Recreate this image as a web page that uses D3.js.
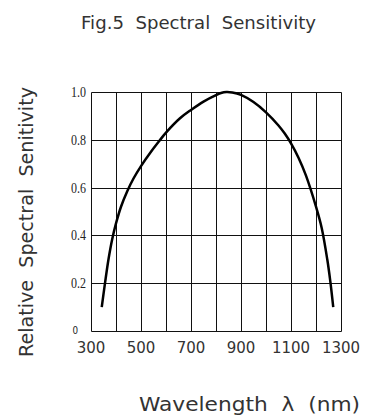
<!DOCTYPE html>
<html>
<head>
<meta charset="utf-8">
<script src="https://cdn.jsdelivr.net/npm/d3@7"></script>
<style>
  body { margin: 0; background: #fff; }
  svg { display: block; }
  text { white-space: pre; }
</style>
</head>
<body>
<script>
// wavelength (nm) and relative sensitivity
var wavelength = [343, 356, 370, 385, 400, 420, 445, 470, 500, 540, 573, 600, 656, 700, 750, 800, 820, 842, 865, 900, 950, 1000, 1050, 1075, 1100, 1130, 1160, 1200, 1223, 1245, 1257, 1269];
var sensitivity = [0.1, 0.2, 0.3, 0.385, 0.45, 0.52, 0.585, 0.638, 0.69, 0.75, 0.795, 0.83, 0.89, 0.925, 0.96, 0.987, 0.996, 1.0, 0.998, 0.988, 0.958, 0.915, 0.86, 0.826, 0.785, 0.725, 0.65, 0.52, 0.43, 0.3, 0.21, 0.1];

var xTicks = [300, 500, 700, 900, 1100, 1300];
var xGrid = [300, 400, 500, 600, 700, 800, 900, 1000, 1100, 1200, 1300];
var yTicks = [0, 0.2, 0.4, 0.6, 0.8, 1.0];
var yTickLabels = ["0", "0.2", "0.4", "0.6", "0.8", "1.0"];

var w = 377, h = 419;
//plot box (don't call it "top", that's window.top)
var plotLeft = 91, plotRight = 341, plotTop = 92, plotBottom = 331;

var svg = d3.select("body").append("svg")
    .attr("width", w)
    .attr("height", h);

var x = d3.scaleLinear().domain([300, 1300]).range([plotLeft, plotRight]);
var y = d3.scaleLinear().domain([0, 1]).range([plotBottom, plotTop]);

//grid
svg.append("g").selectAll("line")
    .data(xGrid)
    .enter()
    .append("line")
    .attr("x1", function(d) { return Math.round(x(d)) + 0.5; })
    .attr("x2", function(d) { return Math.round(x(d)) + 0.5; })
    .attr("y1", Math.round(y(1)) + 0.5)
    .attr("y2", Math.round(y(0)) + 0.5)
    .attr("stroke", "#111")
    .attr("stroke-width", 1);

svg.append("g").selectAll("line")
    .data(yTicks)
    .enter()
    .append("line")
    .attr("x1", Math.round(x(300)) + 0.5)
    .attr("x2", Math.round(x(1300)) + 0.5)
    .attr("y1", function(d) { return Math.round(y(d)) + 0.5; })
    .attr("y2", function(d) { return Math.round(y(d)) + 0.5; })
    .attr("stroke", "#111")
    .attr("stroke-width", 1);

//y tick labels, narrow serif
svg.append("g").selectAll("text")
    .data(yTicks)
    .enter()
    .append("text")
    .attr("transform", function(d) {
        if (d === 0) return "translate(78," + (y(d) + 3) + ") scale(0.8,1)";
        return "translate(86," + (y(d) + 5) + ") scale(0.8,1)";
    })
    .attr("text-anchor", "end")
    .attr("font-family", function(d) { return d === 0 ? "DejaVu Sans" : "Liberation Serif"; })
    .attr("font-size", function(d) { return d === 0 ? 11 : 15; })
    .attr("fill", "#222")
    .text(function(d, i) { return yTickLabels[i]; });

//x tick labels
svg.append("g").selectAll("text")
    .data(xTicks)
    .enter()
    .append("text")
    .attr("x", function(d) { return x(d); })
    .attr("y", 353)
    .attr("text-anchor", "middle")
    .attr("font-family", "DejaVu Sans")
    .attr("font-size", 15)
    .attr("fill", "#333")
    .text(function(d) { return d; });

//curve
var pts = wavelength.map(function(d, i) { return [d, sensitivity[i]]; });
svg.append("path")
    .datum(pts)
    .attr("d", d3.line()
        .x(function(d) { return x(d[0]); })
        .y(function(d) { return y(d[1]); })
        .curve(d3.curveCatmullRom.alpha(0.5)))
    .attr("fill", "none")
    .attr("stroke", "#000")
    .attr("stroke-width", 2.5);

//titles
svg.append("text")
    .attr("x", 81)
    .attr("y", 29)
    .attr("textLength", 235)
    .attr("lengthAdjust", "spacingAndGlyphs")
    .attr("font-family", "DejaVu Sans")
    .attr("font-size", 18)
    .attr("fill", "#333")
    .text("Fig.5  Spectral  Sensitivity");

svg.append("text")
    .attr("x", 139)
    .attr("y", 411)
    .attr("textLength", 221)
    .attr("lengthAdjust", "spacingAndGlyphs")
    .attr("font-family", "DejaVu Sans")
    .attr("font-size", 19)
    .attr("fill", "#333")
    .text("Wavelength  \u03bb  (nm)");

svg.append("text")
    .attr("transform", "translate(33,357) rotate(-90)")
    .attr("textLength", 270)
    .attr("lengthAdjust", "spacingAndGlyphs")
    .attr("font-family", "DejaVu Sans")
    .attr("font-size", 19)
    .attr("fill", "#333")
    .text("Relative  Spectral  Senitivity");
</script>
</body>
</html>
